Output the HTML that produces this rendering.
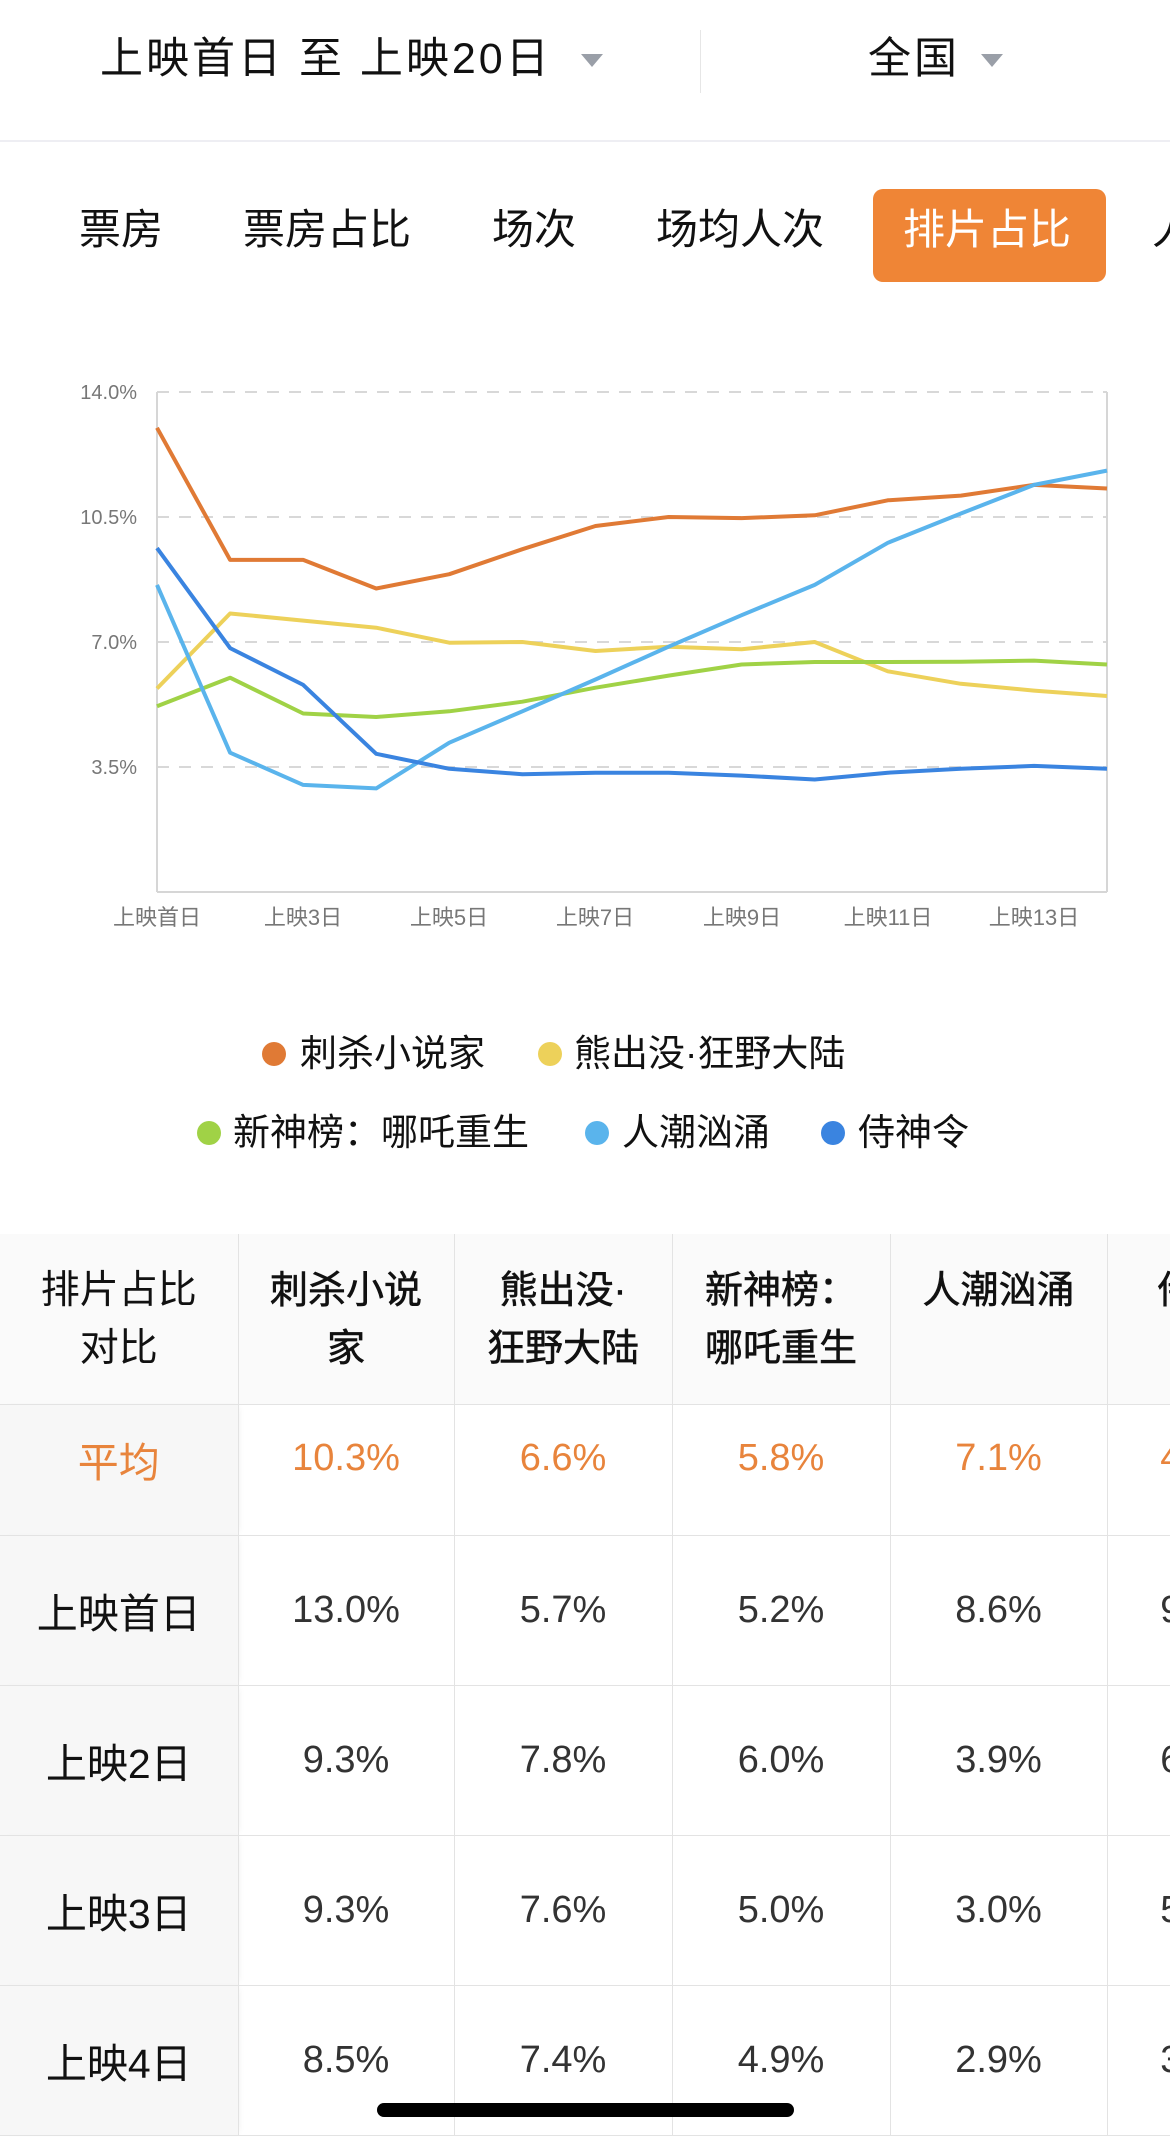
<!DOCTYPE html>
<html><head><meta charset="utf-8">
<style>
*{margin:0;padding:0;box-sizing:border-box}
body{width:1170px;height:2142px;overflow:hidden;background:#fff;font-family:"Liberation Sans","Noto Sans CJK SC",sans-serif;position:relative;color:#111}
.a{position:absolute;white-space:nowrap}
.tri{position:absolute;width:0;height:0;border-left:11px solid transparent;border-right:11px solid transparent;border-top:13px solid #9a9fa8}
.tab{position:absolute;top:203px;font-size:42px;line-height:54px;color:#111}
.dot{position:absolute;width:24px;height:24px;border-radius:50%}
.leg{position:absolute;font-size:37px;line-height:44px;color:#111}
.wrap{position:absolute;left:0;top:1234px;width:1170px;height:908px;overflow:hidden}
table{border-collapse:collapse;table-layout:fixed;width:1300px}
td{border:1px solid #e3e3e3;text-align:center;font-size:38px;color:#333;height:150px;vertical-align:middle}
td.f{background:#f7f7f7;color:#111;font-size:41px;border-left:none;box-shadow:4px 0 6px -3px rgba(0,0,0,0.06)}
tr.h td{height:170px;vertical-align:top;padding-top:28px;font-size:38px;line-height:58px;color:#111;background:#fafafa;-webkit-text-stroke:0.6px #111}
tr.h td.f{-webkit-text-stroke:0;font-weight:normal;font-size:39px}
tr.h td{border-top:none}
tr.avg td{height:131px;color:#e8843c;padding-bottom:22px}
tr.avg td.f{color:#e8843c}
</style></head><body>
<div class="a" style="left:100px;top:32px;font-size:43px;line-height:54px;letter-spacing:3px">上映首日 至 上映20日</div>
<div class="tri" style="left:581px;top:54px"></div>
<div class="a" style="left:700px;top:30px;width:1px;height:63px;background:#e6e6e6"></div>
<div class="a" style="left:868px;top:32px;font-size:43px;line-height:54px;letter-spacing:3px">全国</div>
<div class="tri" style="left:981px;top:54px"></div>
<div class="a" style="left:0;top:140px;width:1170px;height:2px;background:#eeeef3"></div>

<div class="tab" style="left:79px">票房</div>
<div class="tab" style="left:243px">票房占比</div>
<div class="tab" style="left:492px">场次</div>
<div class="tab" style="left:656px">场均人次</div>
<div class="a" style="left:873px;top:189px;width:233px;height:93px;background:#ef8536;border-radius:10px"></div>
<div class="tab" style="left:903px;color:#fff">排片占比</div>
<div class="tab" style="left:1152px">人</div>

<svg class="a" style="left:0;top:0" width="1170" height="960">
<g stroke="#d8d8d8" stroke-width="2" stroke-dasharray="12,10" fill="none">
<line x1="157" y1="392" x2="1107" y2="392"/>
<line x1="157" y1="517" x2="1107" y2="517"/>
<line x1="157" y1="642" x2="1107" y2="642"/>
<line x1="157" y1="767" x2="1107" y2="767"/>
</g>
<g stroke="#d6d6d6" stroke-width="2" fill="none">
<line x1="157" y1="392" x2="157" y2="892"/>
<line x1="157" y1="892" x2="1107" y2="892"/>
<line x1="1107" y1="392" x2="1107" y2="892"/>
</g>
<g font-family="Liberation Sans, sans-serif" font-size="20" fill="#777" text-anchor="end">
<text x="137" y="399">14.0%</text>
<text x="137" y="524">10.5%</text>
<text x="137" y="649">7.0%</text>
<text x="137" y="774">3.5%</text>
</g>
<g font-family="Liberation Sans, Noto Sans CJK SC, sans-serif" font-size="22" fill="#777" text-anchor="middle">
<text x="157" y="925">上映首日</text>
<text x="303" y="925">上映3日</text>
<text x="449" y="925">上映5日</text>
<text x="595" y="925">上映7日</text>
<text x="742" y="925">上映9日</text>
<text x="888" y="925">上映11日</text>
<text x="1034" y="925">上映13日</text>
</g>
<g id="lines" fill="none" stroke-width="4" stroke-linejoin="round"></g>
</svg>
<script>
var S=[
["#e07a35",[13.0,9.3,9.3,8.5,8.9,9.6,10.25,10.5,10.47,10.55,10.97,11.1,11.4,11.3]],
["#edd15a",[5.7,7.8,7.6,7.4,6.98,7.0,6.75,6.87,6.8,7.0,6.18,5.83,5.64,5.49]],
["#a0d246",[5.2,6.0,5.0,4.9,5.06,5.33,5.72,6.06,6.37,6.44,6.44,6.45,6.48,6.37]],
["#5ab4ec",[8.6,3.9,3.0,2.9,4.18,5.06,5.95,6.87,7.75,8.6,9.78,10.6,11.4,11.8]],
["#3a84e0",[9.63,6.83,5.8,3.87,3.45,3.3,3.34,3.34,3.26,3.15,3.34,3.45,3.53,3.45]]];
var g=document.getElementById('lines'),h='';
S.forEach(function(s){var p=s[1].map(function(v,i){return (157+i*73.08).toFixed(1)+','+(892-v*35.71).toFixed(1)}).join(' ');h+='<polyline stroke="'+s[0]+'" points="'+p+'"/>';});
g.innerHTML=h;
</script>

<div class="dot" style="left:262px;top:1042px;background:#e07a35"></div>
<div class="leg" style="left:300px;top:1032px">刺杀小说家</div>
<div class="dot" style="left:538px;top:1042px;background:#edd15a"></div>
<div class="leg" style="left:574px;top:1032px">熊出没·狂野大陆</div>
<div class="dot" style="left:197px;top:1121px;background:#a0d246"></div>
<div class="leg" style="left:233px;top:1111px">新神榜：哪吒重生</div>
<div class="dot" style="left:585px;top:1121px;background:#5ab4ec"></div>
<div class="leg" style="left:622px;top:1111px">人潮汹涌</div>
<div class="dot" style="left:821px;top:1121px;background:#3a84e0"></div>
<div class="leg" style="left:858px;top:1111px">侍神令</div>

<div class="wrap">
<table>
<colgroup><col style="width:238px"><col style="width:216px"><col style="width:218px"><col style="width:218px"><col style="width:217px"><col style="width:193px"></colgroup>
<tr class="h"><td class="f">排片占比<br>对比</td><td>刺杀小说<br>家</td><td>熊出没·<br>狂野大陆</td><td>新神榜：<br>哪吒重生</td><td>人潮汹涌</td><td style="text-align:left;padding-left:50px">侍神令</td></tr>
<tr class="avg"><td class="f">平均</td><td>10.3%</td><td>6.6%</td><td>5.8%</td><td>7.1%</td><td>4.1%</td></tr>
<tr><td class="f">上映首日</td><td>13.0%</td><td>5.7%</td><td>5.2%</td><td>8.6%</td><td>9.6%</td></tr>
<tr><td class="f">上映2日</td><td>9.3%</td><td>7.8%</td><td>6.0%</td><td>3.9%</td><td>6.8%</td></tr>
<tr><td class="f">上映3日</td><td>9.3%</td><td>7.6%</td><td>5.0%</td><td>3.0%</td><td>5.8%</td></tr>
<tr><td class="f">上映4日</td><td>8.5%</td><td>7.4%</td><td>4.9%</td><td>2.9%</td><td>3.9%</td></tr>
</table>
</div>
<div class="a" style="left:377px;top:2103px;width:417px;height:14px;border-radius:7px;background:#000"></div>
</body></html>
